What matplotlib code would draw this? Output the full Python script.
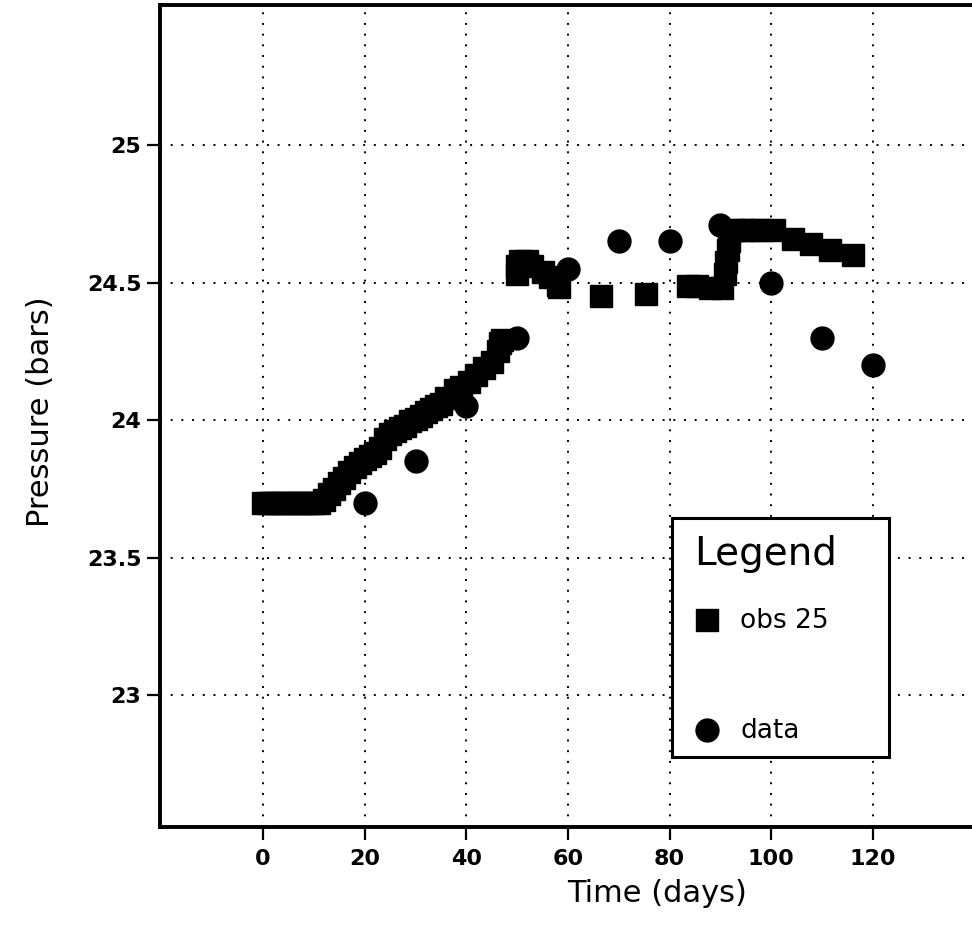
import matplotlib
matplotlib.use("Agg")
import matplotlib.pyplot as plt
from matplotlib.lines import Line2D
from matplotlib.patches import Rectangle

# ---- data ----
obs_t = [0, 1, 2, 3, 4, 5, 6, 7, 8, 9, 10, 11, 12, 13, 14, 15, 16, 17, 18, 19,
         20, 21, 22, 23, 24, 25, 26, 27, 28, 29, 30, 31, 32, 33, 34, 35, 36, 37.7,
         39, 40.5, 42, 43.5, 45, 46.3, 46.6, 47,
         50, 50, 50.5, 52, 53, 55, 56.5, 58, 58.2,
         66.6, 75.4, 83.7, 85.5, 88, 90.3, 91, 91.2, 91.5, 91.8, 92.5,
         94.2, 96, 98, 100.5, 104.3, 107.9, 111.6, 116.2]
obs_p = [23.70, 23.70, 23.70, 23.70, 23.70, 23.70, 23.70, 23.70, 23.70, 23.70, 23.70, 23.70,
         23.71, 23.73, 23.75, 23.77, 23.79, 23.81, 23.83, 23.845,
         23.86, 23.87, 23.88, 23.90, 23.93, 23.95, 23.96, 23.97, 23.98, 23.995, 24.005,
         24.015, 24.03, 24.04, 24.05, 24.06, 24.08, 24.11,
         24.12, 24.14, 24.165, 24.19, 24.21, 24.25, 24.28, 24.29,
         24.53, 24.56, 24.58, 24.58, 24.56, 24.54, 24.52, 24.49, 24.485,
         24.45, 24.46, 24.487, 24.487, 24.48, 24.48, 24.53, 24.575, 24.62, 24.65, 24.69,
         24.693, 24.693, 24.693, 24.69, 24.66, 24.64, 24.62, 24.60]

data_t = [20, 30, 40, 50, 60, 70, 80, 90, 100, 110, 120]
data_p = [23.70, 23.85, 24.05, 24.30, 24.55, 24.65, 24.65, 24.71, 24.50, 24.30, 24.20]

x_ticks = [0, 20, 40, 60, 80, 100, 120]
x_ticklabels = ["0", "20", "40", "60", "80", "100", "120"]
y_ticks = [23.0, 23.5, 24.0, 24.5, 25.0]
y_ticklabels = ["23", "23.5", "24", "24.5", "25"]

series_labels = ["obs 25", "data"]
legend_title = "Legend"
x_label = "Time (days)"
y_label = "Pressure (bars)"

# ---- figure ----
W, H = 972, 926
AXW = 835
fig = plt.figure(figsize=(W / 100, H / 100), dpi=100)
ax = fig.add_axes([160 / W, 99 / H, AXW / W, 822 / H])

ax.set_xlim(-20.3, -20.3 + AXW / 5.08)
ax.set_ylim(22.52, 25.51)

ax.grid(True, color="black", linestyle=(0, (1, 4.5)), linewidth=1.4)
ax.set_axisbelow(True)

(h_obs,) = ax.plot(obs_t, obs_p, linestyle="none", marker="s", markersize=16.5,
                   color="black", zorder=3)
(h_data,) = ax.plot(data_t, data_p, linestyle="none", marker="o", markersize=16.5,
                    color="black", zorder=3)

ax.set_xticks(x_ticks)
ax.set_xticklabels(x_ticklabels)
ax.set_yticks(y_ticks)
ax.set_yticklabels(y_ticklabels)
ax.tick_params(axis="both", direction="out", length=9.5, width=1.6, labelsize=16,
               pad=4)
ax.tick_params(axis="x", pad=6)
for lab in ax.get_xticklabels() + ax.get_yticklabels():
    lab.set_fontweight("bold")
ax.tick_params(top=False, right=False)

for s in ax.spines.values():
    s.set_linewidth(2.8)

ax.set_xlabel(x_label, fontsize=22)
ax.set_ylabel(y_label, fontsize=22)
ax.xaxis.set_label_coords((657 - 160) / AXW, -(893 - 827) / 822)
ax.yaxis.set_label_coords((40 - 160) / AXW, (827 - 412) / 822)
ax.xaxis.label.set_verticalalignment("center")
ax.yaxis.label.set_verticalalignment("center")

# legend box
bx0, bx1 = 672, 889
by0, by1 = 518, 757
rect = Rectangle(((bx0 - 160) / AXW, (827 - by1) / 822), (bx1 - bx0) / AXW,
                 (by1 - by0) / 822, transform=ax.transAxes, facecolor="white",
                 edgecolor="black", linewidth=2.2, zorder=5)
ax.add_patch(rect)

blank = Line2D([], [], linestyle="none")
leg = ax.legend([h_obs, blank, h_data], [series_labels[0], " ", series_labels[1]],
                title=legend_title, title_fontsize=28, fontsize=19,
                loc="upper left",
                bbox_to_anchor=((694 - 160) / AXW, (827 - 535) / 822),
                bbox_transform=ax.transAxes, frameon=False, borderpad=0,
                borderaxespad=0, handlelength=1.0, handleheight=0.3,
                handletextpad=0.75, labelspacing=1.31, alignment="left",
                markerscale=1.0)
leg.get_texts()[1].set_fontsize(1)
leg.set_zorder(6)

fig.savefig("out.png", dpi=100)
